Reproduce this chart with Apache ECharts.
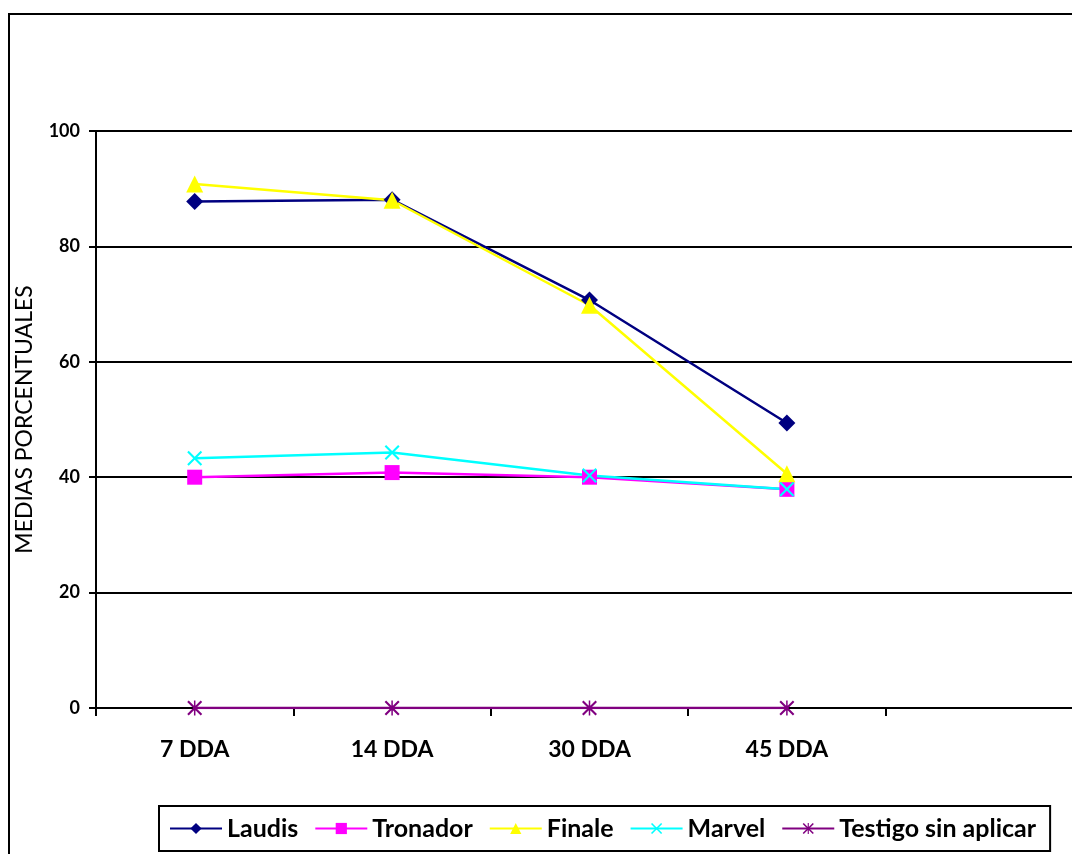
<!DOCTYPE html>
<html>
<head>
<meta charset="utf-8">
<script src="https://cdn.jsdelivr.net/npm/echarts@6/dist/echarts.min.js"></script>
<style>html,body{margin:0;padding:0;background:#fff;overflow:hidden;}#c{width:1100px;height:854px;}</style>
</head>
<body>
<div id="c"></div>
<script>
var categories = ['7 DDA', '14 DDA', '30 DDA', '45 DDA', ''];
var laudis   = [87.8, 88.1, 70.7, 49.4];
var tronador = [40.0, 40.8, 40.0, 37.9];
var finale   = [90.8, 88.0, 69.8, 40.6];
var marvel   = [43.3, 44.3, 40.3, 37.9];
var testigo  = [0, 0, 0, 0];
var yTicks = { min: 0, max: 100, interval: 20 };

var FONT = 'Lato, "Open Sans", sans-serif';
var xPath = 'path://M0,2 L2,0 L10,8 L18,0 L20,2 L12,10 L20,18 L18,20 L10,12 L2,20 L0,18 L8,10 Z';
var starPath = 'path://M0,2 L2,0 L10,8 L18,0 L20,2 L12,10 L20,18 L18,20 L10,12 L2,20 L0,18 L8,10 Z M9,0 L11,0 L11,20 L9,20 Z';

function mk(name, data, color, symbol, size) {
  return {
    name: name, type: 'line', data: data,
    symbol: symbol, symbolSize: size, showSymbol: true,
    lineStyle: { color: color, width: 2.5 },
    itemStyle: { color: color, borderWidth: 0 },
    emphasis: { disabled: true },
    animation: false
  };
}

var chart = echarts.init(document.getElementById('c'));
chart.setOption({
  backgroundColor: '#fff',
  animation: false,
  graphic: [{
    type: 'rect', shape: { x: 9, y: 14, width: 2000, height: 2000 },
    style: { fill: 'none', stroke: '#000', lineWidth: 2 }, silent: true, z: -1
  }],
  grid: { left: 96, top: 131, width: 987, height: 577, containLabel: false },
  legend: {
    left: 159, top: 806,
    padding: [10, 14, 10, 10],
    itemGap: 16, itemWidth: 52, itemHeight: 14,
    borderColor: '#000', borderWidth: 2,
    textStyle: { fontFamily: FONT, fontWeight: 'bold', fontSize: 25, color: '#000' },
    data: ['Laudis', 'Tronador', 'Finale', 'Marvel', 'Testigo sin aplicar']
  },
  xAxis: {
    type: 'category', data: categories, boundaryGap: true,
    axisLine: { lineStyle: { color: '#000', width: 2 } },
    axisTick: { show: true, length: 8, lineStyle: { color: '#000', width: 2 } },
    axisLabel: { margin: 30, fontFamily: FONT, fontWeight: 'bold', fontSize: 23, color: '#000' }
  },
  yAxis: {
    type: 'value', min: yTicks.min, max: yTicks.max, interval: yTicks.interval,
    name: 'MEDIAS PORCENTUALES', nameLocation: 'middle', nameGap: 60, nameRotate: 90,
    nameTextStyle: { fontFamily: FONT, fontSize: 23, color: '#000' },
    axisLine: { show: true, lineStyle: { color: '#000', width: 2 } },
    axisTick: { show: true, length: 7, lineStyle: { color: '#000', width: 2 } },
    axisLabel: { margin: 16, fontFamily: FONT, fontWeight: 'bold', fontSize: 18, color: '#000' },
    splitLine: { show: true, lineStyle: { color: '#000', width: 2 } }
  },
  series: [
    mk('Laudis', laudis, '#000080', 'diamond', 17),
    mk('Tronador', tronador, '#FF00FF', 'rect', 15),
    mk('Finale', finale, '#FFFF00', 'triangle', 17),
    mk('Marvel', marvel, '#00FFFF', xPath, 15),
    mk('Testigo sin aplicar', testigo, '#800080', starPath, 15)
  ]
});
</script>
</body>
</html>
